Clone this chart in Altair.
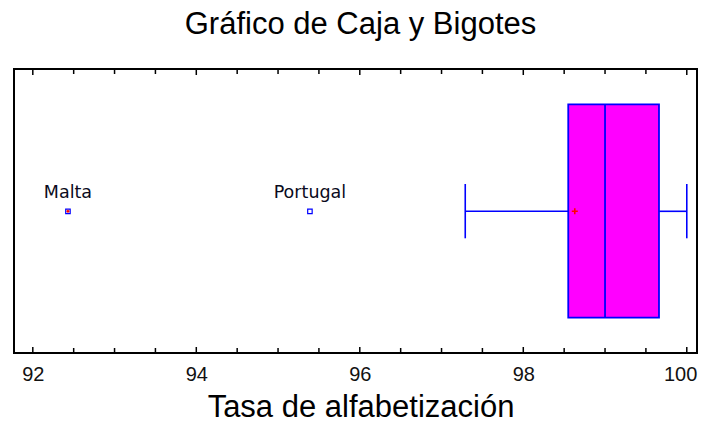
import altair as alt
import pandas as pd

# ---- data ----
chart_title = "Gráfico de Caja y Bigotes"
axis_title = "Tasa de alfabetización"

whisker_low = 97.29
q1 = 98.55
median = 99.0
q3 = 99.66
whisker_high = 100.0
mean_value = 98.63

outlier_names = ["Malta", "Portugal"]
outlier_values = [92.43, 95.39]
outlier_kind = ["far", "mild"]

tick_labels = [92, 94, 96, 98, 100]
minor_ticks = [92.5, 93, 93.5, 94.5, 95, 95.5, 96.5, 97, 97.5, 98.5, 99, 99.5]

x_domain = [91.77, 100.125]

# ---- tables ----
stats = pd.DataFrame({
    "low": [whisker_low], "q1": [q1], "median": [median],
    "q3": [q3], "high": [whisker_high], "mean": [mean_value],
})
outliers = pd.DataFrame({"name": outlier_names, "value": outlier_values, "kind": outlier_kind})
major_df = pd.DataFrame({"t": tick_labels})
minor_df = pd.DataFrame({"t": minor_ticks})
title_df = pd.DataFrame({"t": [chart_title]})

W, H = 683, 284
BOX_TOP, BOX_BOT = 35.3, 248.7
MID = 142.3
CAP_TOP, CAP_BOT = 115.0, 169.3
BLUE = "#0000FF"

xscale = alt.Scale(domain=x_domain, nice=False, zero=False)
xaxis = alt.Axis(
    values=tick_labels, format="d", domain=False, ticks=False, grid=False,
    labelFont="Liberation Sans", labelFontSize=20, labelColor="#111",
    labelBaseline="alphabetic", labelPadding=27,
    labelFlush=11, labelFlushOffset=10,
    title=axis_title, titleFont="Liberation Sans", titleFontSize=31,
    titleFontWeight="normal", titleColor="#000", titleBaseline="alphabetic",
    titleY=63, titleX=346.5,
)

base_stats = alt.Chart(stats)

box = base_stats.mark_rect(fill="#FF00FF", stroke=BLUE, strokeWidth=1.8).encode(
    x=alt.X("q1:Q", scale=xscale, axis=xaxis),
    x2="q3:Q",
    y=alt.value(BOX_TOP), y2=alt.value(BOX_BOT),
)
med = base_stats.mark_rule(color=BLUE, strokeWidth=1.8).encode(
    x=alt.X("median:Q", scale=xscale), y=alt.value(BOX_TOP), y2=alt.value(BOX_BOT)
)
w_low = base_stats.mark_rule(color=BLUE, strokeWidth=1.6).encode(
    x=alt.X("low:Q", scale=xscale), x2="q1:Q", y=alt.value(MID)
)
w_high = base_stats.mark_rule(color=BLUE, strokeWidth=1.6).encode(
    x=alt.X("q3:Q", scale=xscale), x2="high:Q", y=alt.value(MID)
)
cap_low = base_stats.mark_rule(color=BLUE, strokeWidth=1.6).encode(
    x=alt.X("low:Q", scale=xscale), y=alt.value(CAP_TOP), y2=alt.value(CAP_BOT)
)
cap_high = base_stats.mark_rule(color=BLUE, strokeWidth=1.6).encode(
    x=alt.X("high:Q", scale=xscale), y=alt.value(CAP_TOP), y2=alt.value(CAP_BOT)
)
plus_path = "M-1,0H1M0,-1V1"
mean_mark = base_stats.mark_point(shape=plus_path, size=36, stroke="#FF0000",
                                  strokeWidth=1.6, filled=False, opacity=1).encode(
    x=alt.X("mean:Q", scale=xscale), y=alt.value(MID)
)

out_base = alt.Chart(outliers)
out_sq = out_base.mark_point(shape="square", size=20, filled=True, fill="white",
                             stroke=BLUE, strokeWidth=1.2, opacity=1).encode(
    x=alt.X("value:Q", scale=xscale), y=alt.value(MID)
)
out_plus = out_base.transform_filter(alt.datum.kind == "far").mark_point(
    shape=plus_path, size=9, stroke="#FF0000", strokeWidth=1.5, filled=False, opacity=1
).encode(x=alt.X("value:Q", scale=xscale), y=alt.value(MID))
out_lbl = out_base.mark_text(font="DejaVu Sans", fontSize=17.5, color="#0a0a20",
                             baseline="alphabetic", align="center").encode(
    x=alt.X("value:Q", scale=xscale), y=alt.value(129.3), text="name:N"
)

maj_bot = alt.Chart(major_df).mark_rule(color="#000", strokeWidth=1.5).encode(
    x=alt.X("t:Q", scale=xscale), y=alt.value(H), y2=alt.value(H - 6))
maj_top = alt.Chart(major_df).mark_rule(color="#000", strokeWidth=1.5).encode(
    x=alt.X("t:Q", scale=xscale), y=alt.value(0), y2=alt.value(6))
min_bot = alt.Chart(minor_df).mark_rule(color="#000", strokeWidth=1.5).encode(
    x=alt.X("t:Q", scale=xscale), y=alt.value(H), y2=alt.value(H - 5))
min_top = alt.Chart(minor_df).mark_rule(color="#000", strokeWidth=1.5).encode(
    x=alt.X("t:Q", scale=xscale), y=alt.value(0), y2=alt.value(5))

title_mark = alt.Chart(title_df).mark_text(
    font="Liberation Sans", fontSize=31, color="#000", baseline="alphabetic", align="center"
).encode(x=alt.value(346.5), y=alt.value(-34.7), text="t:N")

chart = alt.layer(
    box, w_low, w_high, cap_low, cap_high, med, mean_mark,
    out_sq, out_plus, out_lbl, maj_bot, maj_top, min_bot, min_top, title_mark,
).properties(
    width=W, height=H,
    background="white",
    autosize=alt.AutoSizeParams(type="none"),
    padding={"left": 6, "top": 61, "right": 1, "bottom": 64},
).configure_view(
    stroke="#000", strokeWidth=2
)

chart.save("out.html", embed_options={"renderer": "svg", "actions": False})
